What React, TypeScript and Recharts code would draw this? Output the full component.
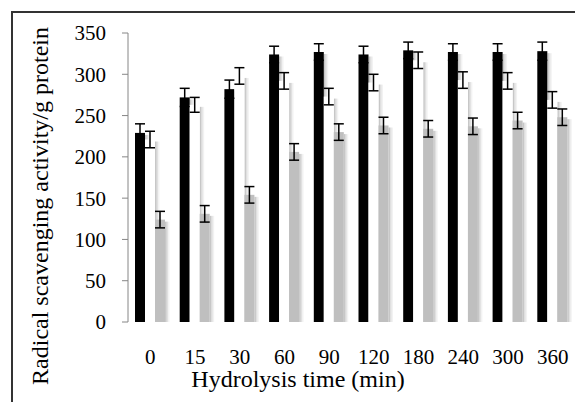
import React from 'react';
import { BarChart, Bar, XAxis, YAxis, ErrorBar } from 'recharts';

const categories = ['0', '15', '30', '60', '90', '120', '180', '240', '300', '360'];
const seriesA = [229, 272, 282, 324, 327, 324, 329, 327, 327, 328];
const seriesAErr = [11, 11, 11, 10, 10, 10, 10, 10, 10, 11];
const seriesB = [221, 263, 298, 292, 273, 290, 317, 293, 292, 269];
const seriesBErr = [10, 9, 10, 10, 10, 10, 10, 10, 10, 10];
const seriesC = [124, 131, 154, 206, 230, 238, 234, 237, 244, 248];
const seriesCErr = [10, 10, 10, 10, 10, 10, 10, 10, 10, 10];
const yTicks = [0, 50, 100, 150, 200, 250, 300, 350];
const boundaryTicks = [0, 1, 2, 3, 4, 5, 6, 7, 8, 9, 10];

const data = categories.map((c, i) => ({
  time: c,
  a: seriesA[i],
  aErr: seriesAErr[i],
  b: seriesB[i],
  bErr: seriesBErr[i],
  c: seriesC[i],
  cErr: seriesCErr[i],
}));

const FONT = '"Liberation Serif", "Times New Roman", serif';
const AXIS = '#868686';

const ShadowBar = (props: any) => {
  const { x, y, width, height, fill } = props;
  if (height == null || height <= 0) return null;
  return (
    <g>
      <rect x={x + width} y={y + 2} width={1.5} height={height - 2} fill="#000" fillOpacity={0.22} />
      <rect x={x + width + 1.5} y={y + 2} width={1.5} height={height - 2} fill="#000" fillOpacity={0.12} />
      <rect x={x + width + 3} y={y + 2} width={1.5} height={height - 2} fill="#000" fillOpacity={0.05} />
      <rect x={x} y={y} width={width} height={height} fill={fill} />
    </g>
  );
};

const YTitle = () => (
  <text
    x={48}
    y={206}
    transform="rotate(-90 48 206)"
    textAnchor="middle"
    fontFamily={FONT}
    fontSize={24}
    fill="#000"
  >
    Radical scavenging activity/g protein
  </text>
);

const XTitle = () => (
  <text x={298} y={387} textAnchor="middle" fontFamily={FONT} fontSize={24} fill="#000">
    Hydrolysis time (min)
  </text>
);

export default function App() {
  return (
    <div style={{ position: 'absolute', left: 0, top: 0, width: 575, height: 402, background: '#fff', overflow: 'hidden' }}>
      <div
        style={{
          position: 'absolute',
          left: 11,
          top: 11,
          width: 580,
          height: 400,
          borderTop: '2px solid #333',
          borderLeft: '2px solid #333',
        }}
      />
      <div style={{ position: 'absolute', left: 0, top: 0 }}>
        <BarChart
          width={575}
          height={402}
          data={data}
          margin={{ top: 33, right: 0, bottom: 0, left: 0 }}
          barSize={10}
          barGap={0}
        >
          <XAxis
            xAxisId="grid"
            type="number"
            domain={[0, 10]}
            ticks={boundaryTicks}
            height={0}
            stroke={AXIS}
            tickSize={6}
            tickFormatter={() => ''}
            allowDataOverflow
          />
          <XAxis
            dataKey="time"
            height={80}
            axisLine={false}
            tickLine={false}
            tickSize={6}
            tickMargin={21}
            tick={{ fontFamily: FONT, fontSize: 21, fill: '#000' }}
            label={{ content: XTitle }}
          />
          <YAxis
            width={128}
            domain={[0, 350]}
            ticks={yTicks}
            stroke={AXIS}
            tickSize={6}
            tickMargin={16}
            tick={{ fontFamily: FONT, fontSize: 21, fill: '#000' }}
            label={{ content: YTitle }}
          />
          <Bar dataKey="a" fill="#000000" shape={ShadowBar} isAnimationActive={false}>
            <ErrorBar dataKey="aErr" width={5} stroke="#000" strokeWidth={1.5} />
          </Bar>
          <Bar dataKey="b" fill="#ffffff" shape={ShadowBar} isAnimationActive={false}>
            <ErrorBar dataKey="bErr" width={5} stroke="#000" strokeWidth={1.5} />
          </Bar>
          <Bar dataKey="c" fill="#bfbfbf" shape={ShadowBar} isAnimationActive={false}>
            <ErrorBar dataKey="cErr" width={5} stroke="#000" strokeWidth={1.5} />
          </Bar>
        </BarChart>
      </div>
    </div>
  );
}
